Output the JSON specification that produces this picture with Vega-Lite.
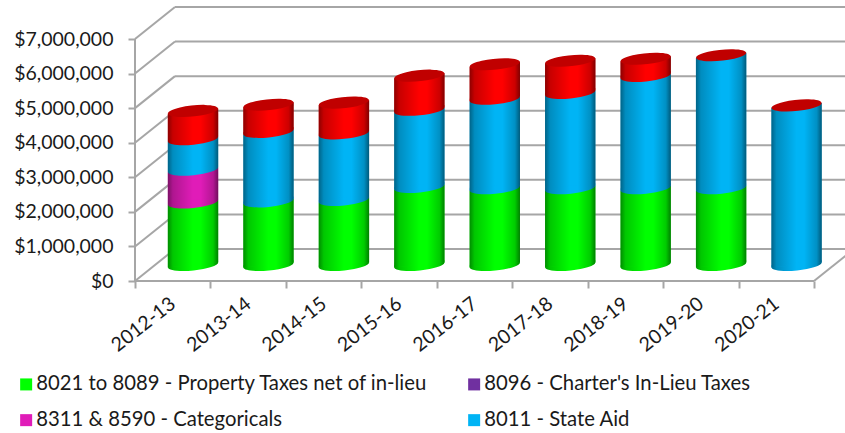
{"$schema":"https://vega.github.io/schema/vega-lite/v6.json","width":710,"height":273,"autosize":"none","padding":{"left":135,"top":8,"right":0,"bottom":152},"background":"white","config":{"view":{"stroke":null},"font":"Lato"},
"datasets":{"levels":[{"level":0},{"level":1000000},{"level":2000000},{"level":3000000},{"level":4000000},{"level":5000000},{"level":6000000},{"level":7000000}]},
"data":{"values":[
{"year":"2012-13","series":"8021 to 8089 - Property Taxes net of in-lieu","value":1810000},{"year":"2012-13","series":"8311 & 8590 - Categoricals","value":950000},{"year":"2012-13","series":"8011 - State Aid","value":880000},{"year":"2012-13","series":"Other","value":820000},
{"year":"2013-14","series":"8021 to 8089 - Property Taxes net of in-lieu","value":1840000},{"year":"2013-14","series":"8011 - State Aid","value":2010000},{"year":"2013-14","series":"Other","value":790000},
{"year":"2014-15","series":"8021 to 8089 - Property Taxes net of in-lieu","value":1880000},{"year":"2014-15","series":"8011 - State Aid","value":1930000},{"year":"2014-15","series":"Other","value":890000},
{"year":"2015-16","series":"8021 to 8089 - Property Taxes net of in-lieu","value":2260000},{"year":"2015-16","series":"8011 - State Aid","value":2230000},{"year":"2015-16","series":"Other","value":990000},
{"year":"2016-17","series":"8021 to 8089 - Property Taxes net of in-lieu","value":2220000},{"year":"2016-17","series":"8011 - State Aid","value":2590000},{"year":"2016-17","series":"Other","value":1000000},
{"year":"2017-18","series":"8021 to 8089 - Property Taxes net of in-lieu","value":2220000},{"year":"2017-18","series":"8011 - State Aid","value":2760000},{"year":"2017-18","series":"Other","value":930000},
{"year":"2018-19","series":"8021 to 8089 - Property Taxes net of in-lieu","value":2220000},{"year":"2018-19","series":"8011 - State Aid","value":3250000},{"year":"2018-19","series":"Other","value":500000},
{"year":"2019-20","series":"8021 to 8089 - Property Taxes net of in-lieu","value":2220000},{"year":"2019-20","series":"8011 - State Aid","value":3850000},{"year":"2019-20","series":"Other","value":0},
{"year":"2020-21","series":"8011 - State Aid","value":4620000},{"year":"2020-21","series":"Other","value":0}
]},
"transform":[
{"calculate":"indexof(['8021 to 8089 - Property Taxes net of in-lieu','8096 - Charter\\'s In-Lieu Taxes','8311 & 8590 - Categoricals','8011 - State Aid','Other'],datum.series)","as":"order"},
{"stack":"value","groupby":["year"],"sort":[{"field":"order","order":"ascending"}],"as":["y0","y1"]},
{"joinaggregate":[{"op":"sum","field":"value","as":"total"}],"groupby":["year"]},
{"calculate":"indexof(['2012-13','2013-14','2014-15','2015-16','2016-17','2017-18','2018-19','2019-20','2020-21'],datum.year)+0.769","as":"xc"},
{"calculate":"datum.y0+460000","as":"base"},{"calculate":"datum.y1+460000","as":"top"},{"calculate":"datum.total+460000","as":"cap"}
],
"layer":[
{"data":{"name":"levels"},"transform":[{"calculate":"0.53","as":"xa"},{"calculate":"9.411","as":"xb"},{"calculate":"datum.level+926000","as":"yb"}],"mark":{"type":"rule","color":"#A6A6A6","strokeWidth":2},
"encoding":{"x":{"field":"xa","type":"quantitative","scale":{"domain":[0,9.411],"nice":false,"zero":false},"title":null,
"axis":{"title":null,"tickCount":100,"values":[0,0.5,1,1.5,2,2.5,3,3.5,4,4.5,5,5.5,6,6.5,7,7.5,8,8.5,9],"grid":false,"domain":false,"tickSize":7,"tickWidth":2,"tickColor":"#A6A6A6","tickOpacity":{"condition":{"test":"datum.value%1==0","value":1},"value":0},"labelExpr":"datum.value==0.5?'2012-13':datum.value==1.5?'2013-14':datum.value==2.5?'2014-15':datum.value==3.5?'2015-16':datum.value==4.5?'2016-17':datum.value==5.5?'2017-18':datum.value==6.5?'2018-19':datum.value==7.5?'2019-20':datum.value==8.5?'2020-21':''","labelAngle":-38,"labelAlign":"right","labelBaseline":"middle","labelFontSize":19.5,"labelColor":"#1a1a1a","labelOverlap":false,"labelFlush":false,"labelPadding":13}},
"x2":{"field":"xb"},
"y":{"field":"yb","type":"quantitative","scale":{"domain":[0,7897000],"nice":false,"zero":false},"title":null,
"axis":{"title":null,"tickCount":100,"values":[0,1000000,2000000,3000000,4000000,5000000,6000000,7000000],"format":"$,d","grid":false,"domain":false,"tickSize":7,"tickWidth":2,"tickColor":"#A6A6A6","labelFontSize":19.5,"labelColor":"#1a1a1a","labelPadding":15,"labelOverlap":false}}}},
{"data":{"name":"levels"},"transform":[{"calculate":"0","as":"xa"},{"calculate":"0.53","as":"xb"},{"calculate":"datum.level+926000","as":"yb"}],"mark":{"type":"rule","color":"#A6A6A6","strokeWidth":2},
"encoding":{"x":{"field":"xa","type":"quantitative"},"x2":{"field":"xb"},"y":{"field":"level","type":"quantitative"},"y2":{"field":"yb"}}},
{"data":{"values":[{}]},"mark":{"type":"rule","color":"#A6A6A6","strokeWidth":2},"encoding":{"x":{"datum":0,"type":"quantitative"},"y":{"datum":0,"type":"quantitative"},"y2":{"datum":7000000}}},
{"data":{"values":[{}]},"mark":{"type":"rule","color":"#A6A6A6","strokeWidth":2},"encoding":{"x":{"datum":0,"type":"quantitative"},"x2":{"datum":9},"y":{"datum":0,"type":"quantitative"}}},
{"data":{"values":[{}]},"mark":{"type":"rule","color":"#A6A6A6","strokeWidth":2},"encoding":{"x":{"datum":9,"type":"quantitative"},"x2":{"datum":9.53},"y":{"datum":0,"type":"quantitative"},"y2":{"datum":926000}}},
{"transform":[{"calculate":"[-1,1]","as":"side"},{"flatten":["side"]},{"calculate":"datum.xc+datum.side*0.334","as":"xs"},{"calculate":"datum.base+datum.side*72000","as":"ya"},{"calculate":"datum.top+datum.side*72000","as":"yb"}],
"mark":{"type":"area","interpolate":"linear","orient":"vertical","opacity":1},
"encoding":{"x":{"field":"xs","type":"quantitative"},"y":{"field":"ya","type":"quantitative"},"y2":{"field":"yb"},"detail":{"field":"year"},
"color":{"field":"series","type":"nominal","scale":{"domain":["8021 to 8089 - Property Taxes net of in-lieu","8096 - Charter's In-Lieu Taxes","8311 & 8590 - Categoricals","8011 - State Aid","Other"],"range":["#00FF00","#7030A0","#E01CB8","#00B4F5","#FF0000"]},
"legend":{"orient":"none","legendX":-119,"legendY":366,"columns":2,"title":null,"values":["8021 to 8089 - Property Taxes net of in-lieu","8311 & 8590 - Categoricals","8096 - Charter's In-Lieu Taxes","8011 - State Aid"],"symbolType":"square","symbolSize":144,"symbolStrokeWidth":0,"labelFontSize":20.3,"labelColor":"#1a1a1a","labelLimit":500,"columnPadding":36,"rowPadding":15,"labelOffset":0,"symbolOpacity":1}}}},
{"transform":[{"filter":"datum.value>0"}],"mark":{"type":"point","filled":true,"opacity":1,"size":2500,"shape":"M-1,0 L-1,0.1 A1.005,0.22,-5.7,0,0,1,-0.1 L1,-0.2 Z","strokeWidth":0},
"encoding":{"x":{"field":"xc","type":"quantitative"},"y":{"field":"base","type":"quantitative"},"color":{"field":"series","type":"nominal","legend":null}}},
{"transform":[{"filter":"datum.y0==0 && datum.value>0"},{"calculate":"[-1,1]","as":"side"},{"flatten":["side"]},{"calculate":"datum.xc+datum.side*0.334","as":"xs"},{"calculate":"datum.base+datum.side*72000","as":"ya"},{"calculate":"datum.cap+datum.side*72000","as":"yb"}],
"mark":{"type":"area","interpolate":"linear","orient":"vertical","opacity":1,"fill":{"gradient":"linear","x1":0,"x2":1,"y1":0,"y2":0,"stops":[{"offset":0,"color":"rgba(0,0,0,0.45)"},{"offset":0.1,"color":"rgba(0,0,0,0.22)"},{"offset":0.5,"color":"rgba(0,0,0,0)"},{"offset":0.65,"color":"rgba(0,0,0,0)"},{"offset":0.9,"color":"rgba(0,0,0,0.2)"},{"offset":1,"color":"rgba(0,0,0,0.5)"}]}},
"encoding":{"x":{"field":"xs","type":"quantitative"},"y":{"field":"ya","type":"quantitative"},"y2":{"field":"yb"},"detail":{"field":"year"}}},
{"transform":[{"filter":"datum.y0==0 && datum.value>0"}],"mark":{"type":"point","filled":true,"opacity":1,"size":2500,"shape":"M-1,0.1 A1.005,0.22,-5.7,0,0,1,-0.1 Z","strokeWidth":0,"fill":{"gradient":"linear","x1":0,"x2":1,"y1":0,"y2":0,"stops":[{"offset":0,"color":"rgba(0,0,0,0.45)"},{"offset":0.1,"color":"rgba(0,0,0,0.22)"},{"offset":0.5,"color":"rgba(0,0,0,0)"},{"offset":0.65,"color":"rgba(0,0,0,0)"},{"offset":0.9,"color":"rgba(0,0,0,0.2)"},{"offset":1,"color":"rgba(0,0,0,0.5)"}]}},
"encoding":{"x":{"field":"xc","type":"quantitative"},"y":{"field":"base","type":"quantitative"}}},
{"transform":[{"filter":"datum.series=='Other'"}],"mark":{"type":"point","filled":true,"opacity":1,"size":2500,"shape":"M-1,0.1 A1.005,0.22,-5.7,1,1,1,-0.1 A1.005,0.22,-5.7,1,1,-1,0.1 Z","strokeWidth":0,"fill":"#C00000"},
"encoding":{"x":{"field":"xc","type":"quantitative"},"y":{"field":"cap","type":"quantitative"}}}
]}
